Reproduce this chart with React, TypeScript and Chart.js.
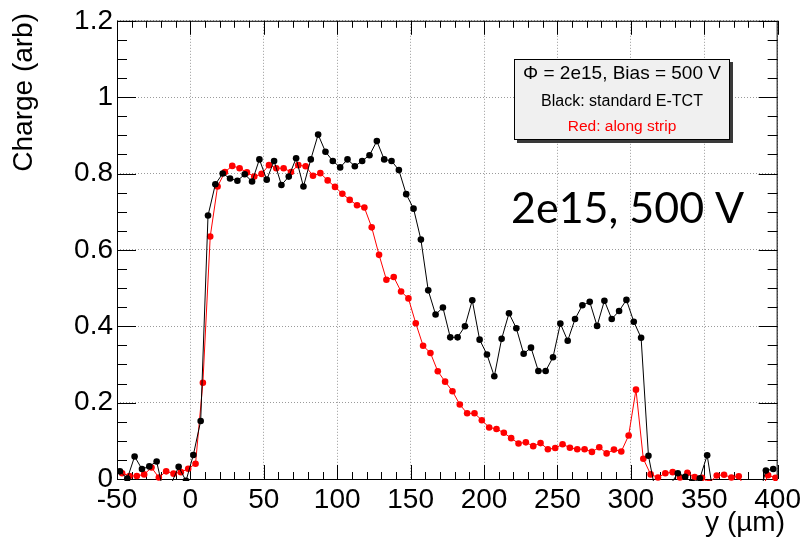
import { useEffect, useRef } from 'react';
import { Chart, registerables } from 'chart.js';

Chart.register(...registerables);

// Scan positions (µm) and collected charge for the two measurement modes
const standardPos = [
  -48, -43, -38, -33, -28, -23, -18, -13, -8, -3,
  2, 7, 12, 17, 22, 27, 32, 37, 42, 47,
  52, 57, 62, 67, 72, 77, 82, 87, 92, 97,
  102, 107, 112, 117, 122, 127, 132, 137, 142, 147,
  152, 157, 162, 167, 172, 177, 182, 187, 192, 197,
  202, 207, 212, 217, 222, 227, 232, 237, 242, 247,
  252, 257, 262, 267, 272, 277, 282, 287, 292, 297,
  302, 307, 312, 317, 322, 327, 332, 337, 342, 347,
  352, 357, 362, 367, 372, 377, 382, 387, 392, 397,
];
const standardCharge = [
  0.020, 0.001, 0.059, 0.026, 0.033, 0.046, -0.040, -0.012, 0.032, -0.005,
  0.063, 0.152, 0.690, 0.772, 0.800, 0.787, 0.781, 0.798, 0.779, 0.837,
  0.784, 0.833, 0.770, 0.792, 0.840, 0.766, 0.837, 0.902, 0.857, 0.833,
  0.816, 0.837, 0.819, 0.833, 0.848, 0.885, 0.837, 0.833, 0.809, 0.746,
  0.708, 0.627, 0.494, 0.431, 0.449, 0.371, 0.371, 0.400, 0.468, 0.365,
  0.326, 0.269, 0.367, 0.434, 0.395, 0.328, 0.344, 0.283, 0.283, 0.319,
  0.407, 0.362, 0.419, 0.455, 0.464, 0.401, 0.467, 0.419, 0.440, 0.469,
  0.412, 0.370, 0.061, -0.037, -0.030, -0.014, 0.015, 0.006, -0.010, 0.002,
  0.062, -0.060, -0.050, -0.050, -0.050, -0.050, -0.050, -0.050, 0.022, 0.026,
];

const stripPos = [
  -46.5, -41.5, -36.5, -31.5, -26.5, -21.5, -16.5, -11.5, -6.5, -1.5,
  3.5, 8.5, 13.5, 18.5, 23.5, 28.5, 33.5, 38.5, 43.5, 48.5,
  53.5, 58.5, 63.5, 68.5, 73.5, 78.5, 83.5, 88.5, 93.5, 98.5,
  103.5, 108.5, 113.5, 118.5, 123.5, 128.5, 133.5, 138.5, 143.5, 148.5,
  153.5, 158.5, 163.5, 168.5, 173.5, 178.5, 183.5, 188.5, 193.5, 198.5,
  203.5, 208.5, 213.5, 218.5, 223.5, 228.5, 233.5, 238.5, 243.5, 248.5,
  253.5, 258.5, 263.5, 268.5, 273.5, 278.5, 283.5, 288.5, 293.5, 298.5,
  303.5, 308.5, 313.5, 318.5, 323.5, 328.5, 333.5, 338.5, 343.5, 348.5,
  353.5, 358.5, 363.5, 368.5, 373.5, 378.5, 383.5, 388.5, 393.5, 398.5,
];
const stripCharge = [
  0.015, 0.008, 0.008, 0.012, 0.030, 0.004, 0.020, 0.014, 0.018, 0.027,
  0.040, 0.252, 0.635, 0.766, 0.804, 0.820, 0.814, 0.803, 0.792, 0.799,
  0.822, 0.814, 0.814, 0.804, 0.822, 0.819, 0.794, 0.801, 0.782, 0.765,
  0.747, 0.731, 0.717, 0.711, 0.659, 0.587, 0.522, 0.529, 0.491, 0.473,
  0.408, 0.349, 0.330, 0.282, 0.255, 0.230, 0.195, 0.172, 0.172, 0.154,
  0.135, 0.131, 0.121, 0.107, 0.093, 0.096, 0.086, 0.094, 0.078, 0.081,
  0.091, 0.082, 0.078, 0.078, 0.071, 0.083, 0.067, 0.077, 0.072, 0.114,
  0.234, 0.053, 0.012, 0.004, 0.015, 0.018, 0.004, 0.016, 0.005, 0.003,
  -0.010, 0.009, 0.011, 0.004, 0.007, -0.030, -0.030, -0.030, 0.010, 0.003,
];

const xTicks = [-50, 0, 50, 100, 150, 200, 250, 300, 350, 400];
const yTicks = [0, 0.2, 0.4, 0.6, 0.8, 1.0, 1.2];
const yTickLabels = ['0', '0.2', '0.4', '0.6', '0.8', '1', '1.2'];

const legendLines = [
  { text: 'Φ = 2e15, Bias = 500 V', color: '#000000', size: 19 },
  { text: 'Black: standard E-TCT', color: '#000000', size: 16 },
  { text: 'Red: along strip', color: '#ff0000', size: 15.5 },
];
const annotation = '2e15, 500 V';
const xTitle = 'y (µm)';
const yTitle = 'Charge (arb)';

const SANS = '"Liberation Sans", Arial, Helvetica, sans-serif';
const NARROW = '"Liberation Sans Narrow", "Liberation Sans", Arial, sans-serif';

// Frame with inward ticks on all four sides, drawn beneath the data
const framePlugin = {
  id: 'rootFrame',
  beforeDatasetsDraw(chart: any) {
    const { ctx, chartArea, scales } = chart;
    const { left, right, top, bottom } = chartArea;
    const xs = scales.x;
    const ys = scales.y;
    ctx.save();
    ctx.strokeStyle = '#000';
    ctx.lineWidth = 1;
    ctx.beginPath();
    for (let i = 0; i <= 45; i++) {
      const v = -50 + i * 10;
      const px = Math.round(xs.getPixelForValue(v)) + 0.5;
      const len = i % 5 === 0 ? 14 : 7;
      ctx.moveTo(px, bottom);
      ctx.lineTo(px, bottom - len);
      ctx.moveTo(px, top);
      ctx.lineTo(px, top + len);
    }
    for (let i = 0; i <= 24; i++) {
      const v = i * 0.05;
      const py = Math.round(ys.getPixelForValue(v)) + 0.5;
      const len = i % 4 === 0 ? 19 : 10;
      ctx.moveTo(left, py);
      ctx.lineTo(left + len, py);
      ctx.moveTo(right, py);
      ctx.lineTo(right - len, py);
    }
    ctx.stroke();
    ctx.strokeRect(left + 0.5, top + 0.5, right - left - 1, bottom - top);
    ctx.restore();
  },
  afterDraw(chart: any) {
    const { ctx } = chart;
    ctx.save();
    // axis titles
    ctx.fillStyle = '#000';
    ctx.font = `28px ${SANS}`;
    ctx.textBaseline = 'alphabetic';
    ctx.save();
    ctx.translate(31.5, 13);
    ctx.rotate(-Math.PI / 2);
    ctx.textAlign = 'right';
    ctx.fillText(yTitle, 0, 0);
    ctx.restore();
    ctx.font = `28px ${NARROW}`;
    ctx.textAlign = 'right';
    ctx.fillText(xTitle, 785, 531);

    // legend pave with shadow
    const bx = 514, by = 59, bw = 216, bh = 81;
    ctx.fillStyle = '#3a3a3a';
    ctx.fillRect(bx + 3, by + 3, bw, bh);
    ctx.fillStyle = '#f0f0f0';
    ctx.fillRect(bx, by, bw, bh);
    ctx.strokeStyle = '#000';
    ctx.lineWidth = 1;
    ctx.strokeRect(bx + 0.5, by + 0.5, bw - 1, bh - 1);
    const baselines = [78.5, 106, 131];
    ctx.textAlign = 'center';
    legendLines.forEach((ln, i) => {
      ctx.fillStyle = ln.color;
      ctx.font = `${ln.size}px ${SANS}`;
      ctx.fillText(ln.text, bx + bw / 2, baselines[i]);
    });

    // large annotation
    ctx.fillStyle = '#000';
    ctx.textAlign = 'left';
    ctx.font = '43px Lato, "Open Sans", sans-serif';
    ctx.fillText(annotation, 511, 222.5);
    ctx.restore();
  },
};

export default function App() {
  const canvasRef = useRef<HTMLCanvasElement | null>(null);

  useEffect(() => {
    const canvas = canvasRef.current;
    if (!canvas) return;
    const chart = new Chart(canvas, {
      type: 'line',
      data: {
        datasets: [
          {
            label: 'standard E-TCT',
            data: standardPos.map((x, i) => ({ x, y: standardCharge[i] })),
            borderColor: '#000000',
            backgroundColor: '#000000',
            pointBackgroundColor: '#000000',
            borderWidth: 1,
            pointRadius: 3.3,
            pointBorderWidth: 0,
            tension: 0,
            clip: { left: 0, top: 0, right: 0, bottom: 2 },
          },
          {
            label: 'along strip',
            data: stripPos.map((x, i) => ({ x, y: stripCharge[i] })),
            borderColor: '#ff0000',
            backgroundColor: '#ff0000',
            pointBackgroundColor: '#ff0000',
            borderWidth: 1,
            pointRadius: 3.3,
            pointBorderWidth: 0,
            tension: 0,
            clip: { left: 0, top: 0, right: 0, bottom: 2 },
          },
        ],
      },
      options: {
        animation: false,
        responsive: true,
        maintainAspectRatio: false,
        layout: { padding: { top: 18, right: 25, left: 0, bottom: 0 } },
        plugins: {
          legend: { display: false },
          tooltip: { enabled: false },
        },
        scales: {
          x: {
            type: 'linear',
            min: -50,
            max: 400,
            afterBuildTicks: (s: any) => {
              s.ticks = xTicks.map((v) => ({ value: v }));
            },
            afterFit: (s: any) => {
              s.height = 63;
            },
            ticks: {
              autoSkip: false,
              maxRotation: 0,
              color: '#000',
              padding: 4,
              font: { family: NARROW, size: 28 },
              callback: (v: any) => String(v),
            },
            grid: { color: '#9a9a9a', lineWidth: 1, drawTicks: false },
            border: { display: false, dash: [1, 2] },
          },
          y: {
            type: 'linear',
            min: 0,
            max: 1.2,
            afterBuildTicks: (s: any) => {
              s.ticks = yTicks.map((v) => ({ value: v }));
            },
            afterFit: (s: any) => {
              s.width = 117;
            },
            ticks: {
              autoSkip: false,
              color: '#000',
              padding: 4,
              font: { family: SANS, size: 28 },
              callback: (_v: any, i: number) => yTickLabels[i],
            },
            grid: { color: '#9a9a9a', lineWidth: 1, drawTicks: false },
            border: { display: false, dash: [1, 2] },
          },
        },
      },
      plugins: [framePlugin],
    });
    return () => chart.destroy();
  }, []);

  return (
    <div style={{ position: 'fixed', left: 0, top: 0, width: 805, height: 542, background: '#fff' }}>
      <canvas ref={canvasRef} />
    </div>
  );
}
